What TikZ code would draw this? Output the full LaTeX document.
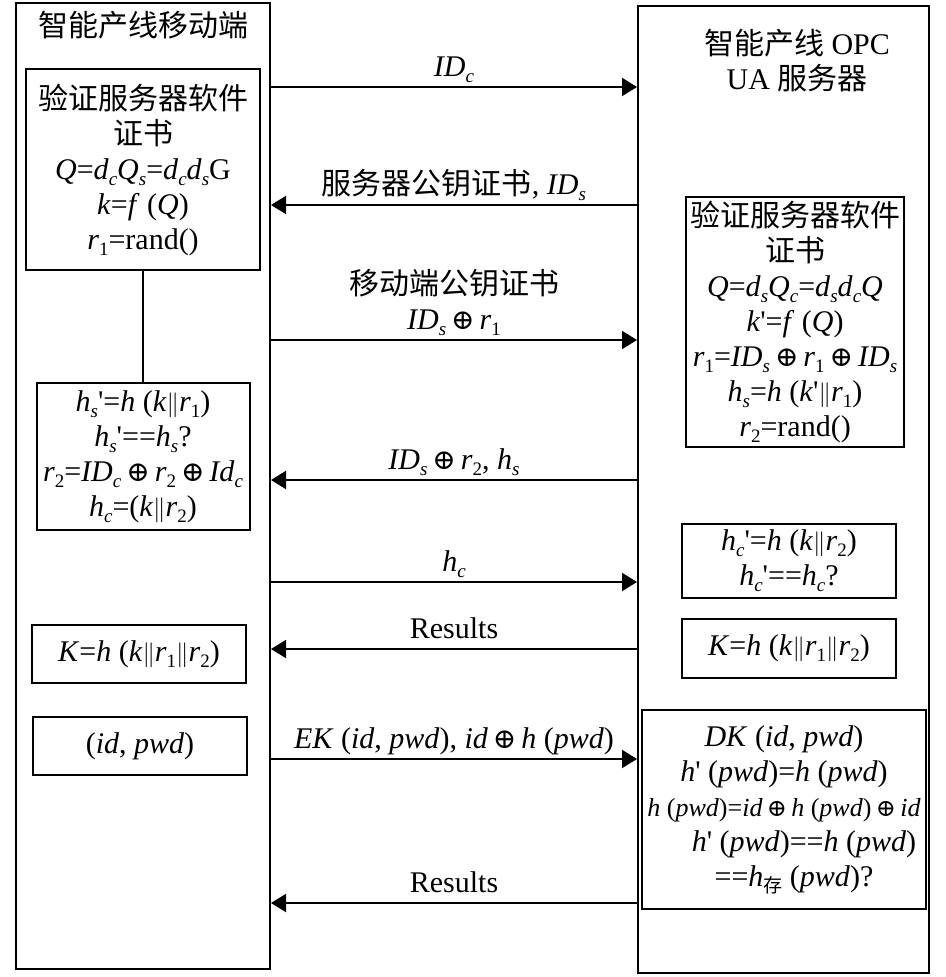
\documentclass[tikz,border=0pt]{standalone}
\usepackage{fontspec}
\setmainfont{Liberation Serif}
\newfontfamily\cjk{Noto Sans CJK SC}
\newfontfamily\symbs{DejaVu Serif}
\usetikzlibrary{arrows.meta}
\newcommand{\bigtext}{\fontsize{30}{35}\selectfont}
\newcommand{\low}[1]{\raisebox{-6pt}{\fontsize{19}{19}\selectfont #1}}
\newcommand{\is}[1]{\low{\textit{#1}}}
\newcommand{\xor}[1][28]{\,{\symbs\fontsize{#1}{#1}\selectfont ⊕}\,}
\newcommand{\cat}{$\|$}
\newcommand{\pr}{\textquotesingle}
\tikzset{
  lifeline/.style={
    draw,
    line width=2pt,
    inner sep=0pt,
  },
  calc box/.style={
    draw,
    line width=2pt,
    align=center,
    inner sep=2pt,
    font=\bigtext,
  },
  msg/.style={
    line width=2pt,
    -{Triangle[length=15pt,width=18pt]},
  },
  msg label/.style={
    above,
    inner sep=0pt,
    text depth=0pt,
    yshift=10pt,
    align=center,
    font=\bigtext,
  },
  title/.style={
    align=center,
    font=\bigtext,
  },
}

\begin{document}
\begin{tikzpicture}[x=1pt, y=-1pt]
      \useasboundingbox (0,0) rectangle (945,977);

      % the two parties
      \node[lifeline, minimum width=254pt, minimum height=966pt] (mob) at (143,486) {};
      \node[lifeline, minimum width=291pt, minimum height=967pt] (srv) at (783.5,489.5) {};
      \node[title] (mobname) at (143,25) {\cjk 智能产线移动端};
      \node[title] (srvname) at (797,61) {{\cjk 智能产线} OPC\\UA {\cjk 服务器}};

      % mobile side
      \node[calc box, minimum width=234pt, minimum height=201pt] (cert1) at (143,169.5)
        {{\cjk 验证服务器软件}\\{\cjk 证书}\\
         \textit{Q}=\textit{d}\is{c}\textit{Q}\is{s}=\textit{d}\is{c}\textit{d}\is{s}G\\
         \textit{k}=\textit{f} (\textit{Q})\\
         \textit{r}\low{1}=rand()};
      \node[calc box, minimum width=213pt, minimum height=147pt] (chk1) at (143,456.5)
        {\textit{h}\is{s}\pr=\textit{h} (\textit{k}\cat\textit{r}\low{1})\\
         \textit{h}\is{s}\pr==\textit{h}\is{s}?\\
         \textit{r}\low{2}=\textit{ID}\is{c}\xor\textit{r}\low{2}\xor\textit{Id}\is{c}\\
         \textit{h}\is{c}=(\textit{k}\cat\textit{r}\low{2})};
      \node[calc box, minimum width=214pt, minimum height=58pt] (key1) at (139,654)
        {\textit{K}=\textit{h} (\textit{k}\cat\textit{r}\low{1}\cat\textit{r}\low{2})};
      \node[calc box, minimum width=214pt, minimum height=58pt] (cred) at (140,746)
        {(\textit{id}, \textit{pwd})};

      % server side
      \node[calc box, minimum width=218pt, minimum height=250pt] (cert2) at (795,322)
        {{\cjk 验证服务器软件}\\{\cjk 证书}\\
         \textit{Q}=\textit{d}\is{s}\textit{Q}\is{c}=\textit{d}\is{s}\textit{d}\is{c}\textit{Q}\\
         \textit{k}\pr=\textit{f} (\textit{Q})\\
         \textit{r}\low{1}=\textit{ID}\is{s}\xor\textit{r}\low{1}\xor\textit{ID}\is{s}\\
         \textit{h}\is{s}=\textit{h} (\textit{k}\pr\cat\textit{r}\low{1})\\
         \textit{r}\low{2}=rand()};
      \node[calc box, minimum width=214pt, minimum height=74pt] (chk2) at (789,561)
        {\textit{h}\is{c}\pr=\textit{h} (\textit{k}\cat\textit{r}\low{2})\\
         \textit{h}\is{c}\pr==\textit{h}\is{c}?};
      \node[calc box, minimum width=214pt, minimum height=59pt] (key2) at (789,648.5)
        {\textit{K}=\textit{h} (\textit{k}\cat\textit{r}\low{1}\cat\textit{r}\low{2})};
      \node[calc box, minimum width=284pt, minimum height=199pt, inner sep=0pt] (dec) at (784,809.5)
        {\textit{DK} (\textit{id}, \textit{pwd})\\
         \textit{h}\pr\ (\textit{pwd})=\textit{h} (\textit{pwd})\\
         {\fontsize{26}{35}\selectfont\textit{h} (\textit{pwd})=\textit{id}\xor[24]\textit{h} (\textit{pwd})\xor[24]\textit{id}}\\
         \hspace*{40pt}\textit{h}\pr\ (\textit{pwd})==\textit{h} (\textit{pwd})\\
         \hspace*{20pt}==\textit{h}\low{\cjk 存} (\textit{pwd})?};

      \draw[line width=2pt] (cert1) -- (chk1);

      % message ends
      \coordinate (m1) at (mob.east |- 0,87);
      \coordinate (s1) at (srv.west |- 0,87);
      \coordinate (m2) at (mob.east |- 0,205);
      \coordinate (s2) at (srv.west |- 0,205);
      \coordinate (m3) at (mob.east |- 0,340);
      \coordinate (s3) at (srv.west |- 0,340);
      \coordinate (m4) at (mob.east |- 0,480);
      \coordinate (s4) at (srv.west |- 0,480);
      \coordinate (m5) at (mob.east |- 0,582);
      \coordinate (s5) at (srv.west |- 0,582);
      \coordinate (m6) at (mob.east |- 0,649);
      \coordinate (s6) at (srv.west |- 0,649);
      \coordinate (m7) at (mob.east |- 0,759);
      \coordinate (s7) at (srv.west |- 0,759);
      \coordinate (m8) at (mob.east |- 0,903);
      \coordinate (s8) at (srv.west |- 0,903);

      \draw[msg] (m1) -- node[msg label] {\textit{ID}\is{c}} (s1);
      \draw[msg] (s2) -- node[msg label] {{\cjk 服务器公钥证书}, \textit{ID}\is{s}} (m2);
      \draw[msg] (m3) -- node[msg label] {{\cjk 移动端公钥证书}\\\textit{ID}\is{s}\xor\textit{r}\low{1}} (s3);
      \draw[msg] (s4) -- node[msg label] {\textit{ID}\is{s}\xor\textit{r}\low{2}, \textit{h}\is{s}} (m4);
      \draw[msg] (m5) -- node[msg label] {\textit{h}\is{c}} (s5);
      \draw[msg] (s6) -- node[msg label] {Results} (m6);
      \draw[msg] (m7) -- node[msg label] {\textit{EK} (\textit{id}, \textit{pwd}), \textit{id}\xor\textit{h} (\textit{pwd})} (s7);
      \draw[msg] (s8) -- node[msg label] {Results} (m8);
    \end{tikzpicture}
\end{document}
